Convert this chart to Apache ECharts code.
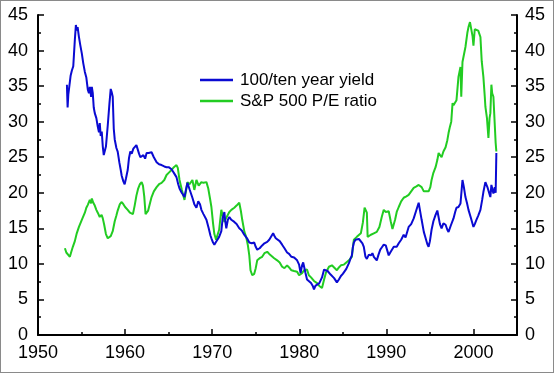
<!DOCTYPE html>
<html>
<head>
<meta charset="utf-8">
<script src="https://cdn.jsdelivr.net/npm/echarts@6/dist/echarts.min.js"></script>
<style>
html,body{margin:0;padding:0;background:#fff;}
#wrap{position:relative;width:555px;height:375px;}
#chart{position:absolute;left:0;top:0;width:555px;height:375px;}
#frame{position:absolute;left:0;top:0;width:552px;height:371px;border:1px solid #8a8a8a;pointer-events:none;}
</style>
</head>
<body>
<div id="wrap"><div id="chart"></div><div id="frame"></div></div>
<script>
// ---- data ----
const seriesNames = ['100/ten year yield', 'S&P 500 P/E ratio'];
const xTickYears = [1950, 1960, 1970, 1980, 1990, 2000];
const yTicks = [0, 5, 10, 15, 20, 25, 30, 35, 40, 45];

const yieldYears = [
1953.32,1953.36,1953.40,1953.48,1953.60,1953.75,1953.89,1954.05,1954.23,1954.35,1954.46,1954.55,1954.69,1954.85,
1955.03,1955.20,1955.38,1955.55,1955.72,1955.85,1955.95,1956.10,1956.18,1956.29,1956.40,1956.52,1956.70,1956.86,
1957.00,1957.09,1957.20,1957.32,1957.44,1957.55,1957.67,1957.80,1958.01,1958.20,1958.35,1958.45,1958.58,1958.70,
1958.81,1959.00,1959.15,1959.35,1959.50,1959.61,1959.80,1959.95,1960.10,1960.30,1960.45,1960.60,1960.76,1960.95,
1961.10,1961.30,1961.44,1961.60,1961.75,1961.90,1962.10,1962.30,1962.47,1962.70,1962.90,1963.04,1963.30,1963.62,
1963.90,1964.19,1964.50,1964.76,1965.00,1965.33,1965.60,1965.90,1966.10,1966.25,1966.50,1966.82,1967.00,1967.16,
1967.40,1967.73,1967.95,1968.19,1968.40,1968.60,1968.76,1969.00,1969.34,1969.60,1969.80,1969.91,1970.10,1970.25,
1970.45,1970.59,1970.80,1971.05,1971.20,1971.40,1971.50,1971.62,1971.80,1971.97,1972.20,1972.54,1972.80,1973.11,
1973.40,1973.68,1974.00,1974.26,1974.55,1974.83,1975.00,1975.17,1975.45,1975.74,1976.00,1976.32,1976.55,1976.77,
1977.00,1977.12,1977.30,1977.46,1977.75,1978.03,1978.30,1978.60,1978.83,1979.10,1979.41,1979.75,1979.98,1980.15,
1980.32,1980.45,1980.55,1980.70,1980.89,1981.10,1981.35,1981.55,1981.69,1981.85,1982.04,1982.30,1982.61,1982.85,
1983.07,1983.25,1983.41,1983.60,1983.75,1984.00,1984.32,1984.55,1984.78,1985.00,1985.13,1985.40,1985.70,1985.90,
1986.04,1986.15,1986.27,1986.45,1986.61,1986.85,1987.07,1987.25,1987.41,1987.60,1987.76,1987.99,1988.22,1988.40,
1988.56,1988.75,1988.90,1989.10,1989.30,1989.47,1989.70,1989.93,1990.10,1990.27,1990.50,1990.65,1990.85,1991.00,
1991.19,1991.42,1991.70,1991.99,1992.20,1992.56,1992.85,1993.14,1993.40,1993.71,1993.85,1994.05,1994.30,1994.51,
1994.70,1994.85,1995.00,1995.19,1995.40,1995.65,1995.85,1996.00,1996.15,1996.34,1996.55,1996.80,1997.00,1997.14,
1997.40,1997.71,1997.90,1998.05,1998.28,1998.51,1998.65,1998.74,1998.90,1999.08,1999.25,1999.43,1999.70,2000.00,
2000.15,2000.34,2000.55,2000.80,2001.00,2001.14,2001.37,2001.60,2001.94,2002.06,2002.29,2002.45,2002.55,2002.63];
const yieldValues = [
35.2,33.5,32.0,33.8,34.0,36.5,37.2,37.8,41.5,43.6,42.8,43.3,42.0,40.8,
39.6,38.2,37.0,36.2,34.5,34.0,34.9,33.5,34.9,34.0,32.0,31.2,30.5,29.3,
28.5,29.8,28.0,28.6,26.5,25.3,25.5,26.5,29.5,32.5,34.6,34.2,33.5,29.0,
27.5,26.3,25.8,24.2,23.2,22.4,21.6,21.2,22.0,23.2,24.9,25.8,25.5,26.2,
26.3,26.7,26.7,25.5,25.0,24.9,25.3,24.8,25.6,25.6,25.8,25.7,25.0,24.3,
24.0,23.9,23.7,23.6,23.6,23.3,22.8,22.2,21.2,20.6,20.0,19.4,20.5,21.4,
20.5,19.3,18.4,17.9,18.8,18.4,17.6,17.0,16.2,15.0,14.0,13.6,13.0,12.7,
13.1,13.0,13.8,14.6,16.4,17.3,16.0,15.0,16.2,16.6,16.2,15.9,15.6,15.0,
14.7,14.1,13.6,13.0,12.9,13.0,12.4,12.0,12.2,12.6,12.9,13.1,13.4,13.5,
14.3,14.0,13.6,13.6,13.2,12.7,12.2,11.6,11.4,11.0,10.9,10.5,9.9,8.7,
9.8,10.2,10.1,8.8,7.8,7.6,7.3,6.9,6.4,6.9,7.0,7.3,8.1,9.2,
9.3,9.0,8.9,8.5,8.4,8.0,7.4,7.8,8.3,8.6,8.7,9.3,10.1,10.8,
11.2,12.3,13.0,13.4,13.6,13.5,13.4,12.9,12.4,11.0,10.7,11.3,11.2,11.5,
11.0,10.8,10.5,11.3,12.0,12.3,12.7,12.6,11.9,11.2,11.7,11.5,12.4,12.2,
12.4,12.9,13.4,14.1,13.7,15.2,15.6,16.4,17.4,18.6,17.6,16.2,14.5,13.6,
12.8,12.4,13.2,14.8,16.0,16.9,17.5,17.3,15.6,15.0,15.7,15.5,14.8,14.5,
15.4,16.4,17.3,17.9,18.0,18.5,20.5,21.8,20.8,19.4,18.6,17.6,16.5,15.2,
15.6,16.2,16.8,17.6,19.0,20.1,21.5,20.8,19.4,21.1,19.9,20.8,20.0,25.6];

const peYears = [
1953.09,1953.25,1953.43,1953.66,1953.80,1954.00,1954.23,1954.45,1954.70,1955.03,1955.38,1955.55,1955.72,1955.95,
1956.10,1956.18,1956.35,1956.52,1956.70,1956.86,1957.09,1957.30,1957.44,1957.60,1957.80,1958.01,1958.20,1958.35,
1958.58,1958.81,1959.00,1959.15,1959.40,1959.61,1959.80,1960.00,1960.30,1960.55,1960.76,1960.90,1961.10,1961.30,
1961.50,1961.70,1961.90,1962.05,1962.20,1962.35,1962.47,1962.65,1962.85,1963.04,1963.30,1963.62,1963.90,1964.19,
1964.50,1964.76,1965.00,1965.33,1965.60,1965.90,1966.05,1966.25,1966.50,1966.82,1967.00,1967.16,1967.40,1967.73,
1967.95,1968.19,1968.45,1968.76,1969.00,1969.34,1969.55,1969.75,1969.91,1970.10,1970.25,1970.45,1970.59,1970.80,
1971.05,1971.20,1971.40,1971.62,1971.97,1972.20,1972.54,1972.80,1973.11,1973.30,1973.45,1973.70,1973.90,1974.10,
1974.26,1974.40,1974.60,1974.83,1975.00,1975.17,1975.45,1975.74,1976.00,1976.32,1976.55,1976.77,1977.12,1977.46,
1977.75,1978.03,1978.30,1978.60,1978.83,1979.10,1979.41,1979.75,1979.98,1980.32,1980.55,1980.89,1981.10,1981.35,
1981.69,1982.04,1982.30,1982.61,1982.85,1983.07,1983.41,1983.75,1984.00,1984.32,1984.55,1984.78,1985.13,1985.40,
1985.70,1986.04,1986.15,1986.27,1986.61,1987.07,1987.30,1987.50,1987.64,1987.76,1987.85,1987.99,1988.22,1988.56,
1988.90,1989.20,1989.47,1989.70,1989.93,1990.27,1990.50,1990.70,1990.85,1991.00,1991.19,1991.42,1991.70,1991.99,
1992.30,1992.56,1992.85,1993.14,1993.45,1993.71,1994.05,1994.30,1994.51,1994.85,1995.05,1995.19,1995.40,1995.65,
1995.85,1996.00,1996.20,1996.34,1996.55,1996.80,1997.00,1997.14,1997.30,1997.45,1997.60,1997.71,1997.90,1998.05,
1998.28,1998.51,1998.60,1998.74,1999.08,1999.30,1999.43,1999.60,1999.77,1999.90,2000.00,2000.15,2000.34,2000.55,
2000.80,2000.95,2001.14,2001.30,2001.37,2001.55,2001.72,2001.85,2001.94,2002.06,2002.15,2002.29,2002.45,2002.55,2002.63];
const peValues = [
12.2,11.6,11.4,11.0,11.6,12.4,13.2,14.3,15.2,16.2,17.2,17.9,18.3,19.0,
18.5,19.2,18.6,18.2,17.6,17.2,16.6,16.9,16.4,15.5,14.2,13.6,13.6,13.9,
14.6,16.0,16.8,17.5,18.4,18.7,18.4,18.0,17.6,17.2,17.3,17.0,18.2,19.6,
20.6,21.2,21.5,21.0,19.5,17.0,16.9,17.5,18.5,19.4,20.2,20.8,21.2,21.4,
21.8,22.5,22.8,23.2,23.6,23.9,23.5,21.8,20.5,19.0,20.3,21.5,21.2,21.8,
20.4,21.8,21.0,21.5,21.4,21.5,20.6,19.2,18.0,15.7,14.2,13.4,14.0,14.8,
17.6,16.8,15.9,16.5,17.3,17.6,17.9,18.2,18.6,17.4,16.2,14.5,13.8,12.6,
11.2,9.1,8.4,8.6,9.4,10.5,10.8,11.0,11.5,11.7,11.4,11.2,10.8,10.5,
10.2,9.6,9.4,9.8,9.5,9.1,9.0,8.9,8.4,8.7,9.1,9.2,8.4,8.1,
7.6,7.3,6.9,6.6,7.8,8.8,9.6,9.8,9.5,9.1,9.5,9.8,9.9,10.2,
10.5,11.0,12.3,13.4,13.8,14.3,15.8,17.9,18.0,17.2,13.8,13.8,14.1,14.3,
14.5,15.2,16.6,17.6,17.3,17.4,16.0,14.9,14.8,16.2,17.3,18.0,18.8,19.3,
19.5,19.7,20.2,20.7,20.9,21.1,20.8,20.2,20.1,20.2,20.8,21.8,22.8,23.6,
24.6,25.6,25.7,25.0,25.8,26.4,27.4,28.4,29.3,30.0,32.6,32.3,32.5,33.0,
36.3,37.7,33.5,38.4,40.5,42.5,43.3,44.0,43.9,42.0,40.7,43.0,43.2,42.8,
41.9,38.5,36.3,33.5,32.1,30.5,27.7,30.5,31.2,35.2,34.0,33.5,29.5,27.0,25.8];

// ---- chart ----
const pair = (xs, ys) => xs.map((x, i) => [x, ys[i]]);
const FONT = 'Liberation Sans, Arial, sans-serif';
const chart = echarts.init(document.getElementById('chart'), null, {renderer: 'canvas'});

const yAxisBase = (pos) => ({
  type: 'value', position: pos, min: 0, max: 45, interval: 5,
  axisLine: {show: true, lineStyle: {color: '#000', width: 2}},
  axisTick: {show: true, inside: true, length: 6, lineStyle: {color: '#000', width: 1.5}},
  minorTick: {show: true, splitNumber: 2, length: 3, lineStyle: {color: '#000', width: 1.5}},
  axisLabel: {show: true, color: '#000', fontSize: 18, fontFamily: FONT, margin: pos === 'left' ? 10 : 8,
    formatter: v => yTicks.indexOf(v) >= 0 ? String(v) : ''},
  splitLine: {show: false}
});

chart.setOption({
  backgroundColor: '#fff',
  animation: false,
  grid: {left: 38, right: 38, top: 15, bottom: 40, containLabel: false},
  legend: {
    orient: 'vertical', left: 200, top: 71, padding: 0,
    icon: 'rect', itemWidth: 33, itemHeight: 2.5, itemGap: 3,
    textStyle: {color: '#000', fontSize: 17, fontFamily: FONT, lineHeight: 18, padding: [0, 0, 0, 2]},
    data: seriesNames
  },
  xAxis: [
    {
      type: 'value', position: 'bottom', min: 1950, max: 2005, interval: 10,
      axisLine: {show: true, lineStyle: {color: '#000', width: 2}},
      axisTick: {show: true, inside: true, length: 6, lineStyle: {color: '#000', width: 1.5}},
      axisLabel: {show: true, color: '#000', fontSize: 18, fontFamily: FONT, margin: 9,
        formatter: v => xTickYears.indexOf(v) >= 0 ? String(v) : ''},
      splitLine: {show: false}
    },
    {
      type: 'value', position: 'bottom', min: 1950, max: 2005, interval: 5,
      axisLine: {show: false},
      axisTick: {show: true, inside: true, length: 3, lineStyle: {color: '#000', width: 1.5}},
      axisLabel: {show: false},
      splitLine: {show: false}
    }
  ],
  yAxis: [yAxisBase('left'), yAxisBase('right')],
  series: [
    {
      name: seriesNames[0], type: 'line', xAxisIndex: 0, yAxisIndex: 0, z: 3,
      data: pair(yieldYears, yieldValues), showSymbol: false, symbol: 'none',
      lineStyle: {color: '#0a0ad2', width: 2}, itemStyle: {color: '#0a0ad2'}
    },
    {
      name: seriesNames[1], type: 'line', xAxisIndex: 0, yAxisIndex: 0, z: 2,
      data: pair(peYears, peValues), showSymbol: false, symbol: 'none',
      lineStyle: {color: '#22cc22', width: 2}, itemStyle: {color: '#22cc22'}
    }
  ]
});
</script>
</body>
</html>
